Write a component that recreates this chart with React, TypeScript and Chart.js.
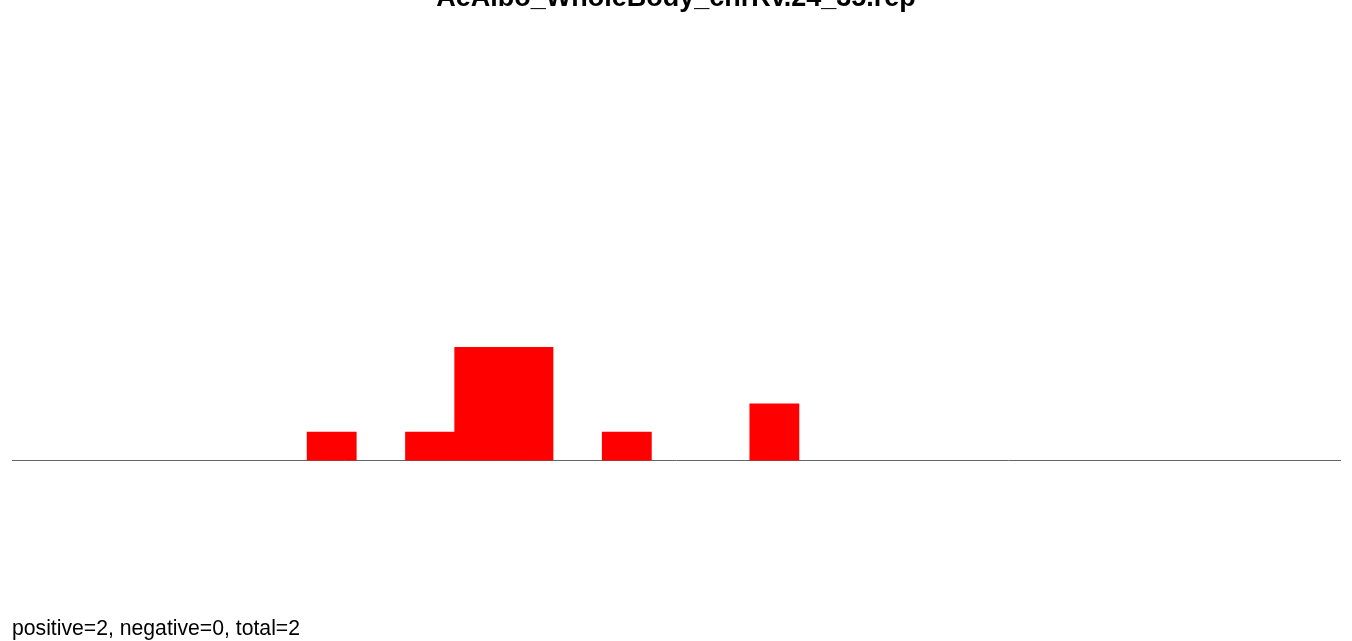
import React, { useEffect, useRef } from "react";
import { Chart, registerables } from "chart.js";

Chart.register(...registerables);

const chartTitle = "AeAlbo_WholeBody_chrRv.24_35.rep";
const footerText = "positive=2, negative=0, total=2";
const binLabels = [
  "0", "1", "2", "3", "4", "5", "6", "7", "8", "9", "10", "11", "12", "13",
  "14", "15", "16", "17", "18", "19", "20", "21", "22", "23", "24", "25", "26",
];
const counts = [0, 0, 0, 0, 0, 0, 1, 0, 1, 4, 4, 0, 1, 0, 0, 2, 0, 0, 0, 0, 0, 0, 0, 0, 0, 0, 0];
const yMin = -6.4;
const yMax = 16.3;

const textPlugin = {
  id: "textPlugin",
  afterDraw(chart: any) {
    const ctx = chart.ctx;
    ctx.save();
    ctx.fillStyle = "#000000";
    ctx.textBaseline = "alphabetic";
    ctx.textAlign = "center";
    ctx.font = "bold 27px 'Liberation Sans', Arial, sans-serif";
    ctx.fillText(chartTitle, chart.width / 2, 6);
    ctx.textAlign = "left";
    ctx.font = "21.2px 'Liberation Sans', Arial, sans-serif";
    ctx.fillText(footerText, 12, 635);
    ctx.restore();
  },
};

export default function App() {
  const ref = useRef<HTMLCanvasElement | null>(null);
  useEffect(() => {
    document.body.style.margin = "0";
    const chart = new Chart(ref.current as HTMLCanvasElement, {
      type: "bar",
      data: {
        labels: binLabels,
        datasets: [
          {
            data: counts.map((v) => (v === 0 ? null : v)),
            backgroundColor: "#ff0000",
            borderWidth: 0,
            barPercentage: 1,
            categoryPercentage: 1,
          },
        ],
      },
      options: {
        animation: false,
        responsive: true,
        maintainAspectRatio: false,
        layout: { padding: { left: 12, right: 12, top: 0, bottom: 0 } },
        plugins: {
          legend: { display: false },
          title: { display: false },
          tooltip: { enabled: false },
        },
        scales: {
          x: {
            position: { y: 0 } as any,
            z: 1,
            ticks: { display: false },
            grid: { display: false },
            border: { display: true, color: "#666666", width: 1 },
          },
          y: {
            display: false,
            min: yMin,
            max: yMax,
          },
        },
      },
      plugins: [textPlugin],
    });
    return () => chart.destroy();
  }, []);
  return (
    <div style={{ position: "fixed", left: 0, top: 0, width: 1352, height: 641, background: "#ffffff" }}>
      <canvas ref={ref} />
    </div>
  );
}
